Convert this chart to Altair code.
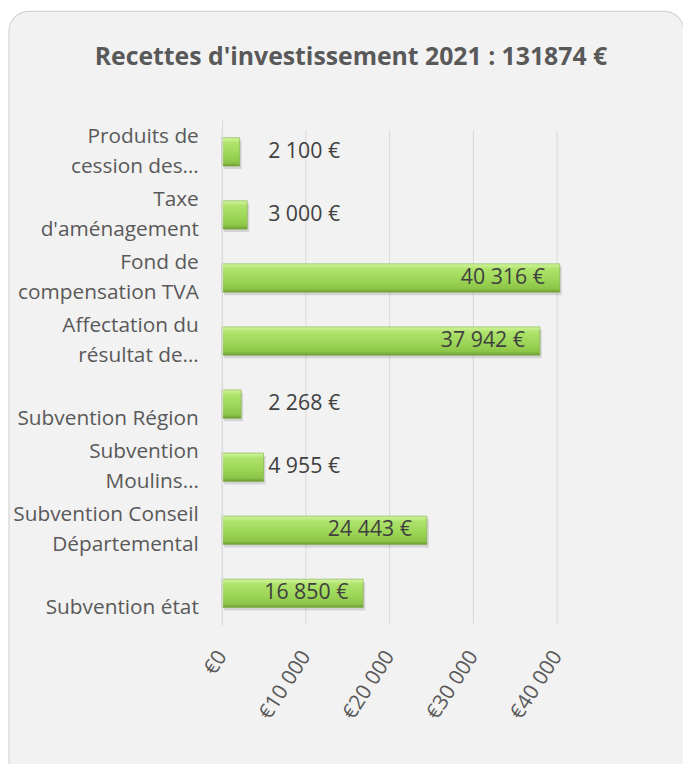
import altair as alt
import pandas as pd

categories = [
    "Produits de|cession des…",
    "Taxe|d'aménagement",
    "Fond de|compensation TVA",
    "Affectation du|résultat de…",
    "Subvention Région",
    "Subvention|Moulins…",
    "Subvention Conseil|Départemental",
    "Subvention état",
]
values = [2100, 3000, 40316, 37942, 2268, 4955, 24443, 16850]
x_ticks = [0, 10000, 20000, 30000, 40000]
title_text = "Recettes d'investissement 2021 : 131874 €"

df = pd.DataFrame({"cat": categories, "value": values})
df["label"] = [f"{v:,}".replace(",", " ") + " €" for v in values]
ticks_df = pd.DataFrame({"t": x_ticks})

W, H = 338, 509
FONT = "Open Sans"
GREY = "#595959"

x_scale = alt.Scale(domain=[0, 40000], nice=False)
y_scale = alt.Scale(domain=categories, paddingInner=0.55, paddingOuter=0.275)

y_axis = alt.Axis(
    title=None, domain=True, domainColor="#d9d9d9", ticks=False, grid=False,
    labelPadding=24, labelFontSize=21, labelColor=GREY, labelFont=FONT,
    labelLimit=0, labelLineHeight=30, labelOffset=-15, zindex=1,
    labelExpr="indexof(datum.label, '|') < 0 ? ['', datum.label] : split(datum.label, '|')",
)
x_axis = alt.Axis(
    title=None, values=x_ticks, grid=False, domain=False,
    ticks=False, labelAngle=-57, labelAlign="right",
    labelBaseline="middle", labelPadding=28, labelFontSize=21, labelColor=GREY,
    labelFont=FONT, zindex=1,
    labelExpr="'€' + replace(format(datum.value, ','), ',', ' ')",
)

base = alt.Chart(df)

card = base.mark_rect(
    fill="#f2f2f2", stroke="#d4d4d4", strokeWidth=1.2, cornerRadius=20, clip=False
).encode(
    x=alt.value(-215), x2=alt.value(466), y=alt.value(-110), y2=alt.value(680)
).transform_filter("datum.cat == 'Subvention état'")

grid = alt.Chart(ticks_df).mark_rule(color="#d9d9d9", strokeWidth=1).encode(
    x=alt.X("t:Q", scale=x_scale, axis=x_axis),
    y=alt.value(10),
    y2=alt.value(H - 1),
)

shadow = base.mark_bar(color="#000000", opacity=0.12, yOffset=3, xOffset=2, clip=False).encode(
    x=alt.X("value:Q", scale=x_scale, axis=x_axis),
    y=alt.Y("cat:N", scale=y_scale, axis=y_axis, sort=None),
)

bars = base.mark_bar(
    clip=False,
    stroke="#7fae45",
    strokeWidth=0.6,
    color=alt.Gradient(
        gradient="linear", x1=0, x2=0, y1=0, y2=1,
        stops=[
            alt.GradientStop(offset=0, color="#d2f59e"),
            alt.GradientStop(offset=0.18, color="#afe36c"),
            alt.GradientStop(offset=0.6, color="#9bd555"),
            alt.GradientStop(offset=0.88, color="#8cc447"),
            alt.GradientStop(offset=1, color="#6b9a33"),
        ],
    ),
).encode(
    x=alt.X("value:Q", scale=x_scale, axis=x_axis),
    y=alt.Y("cat:N", scale=y_scale, axis=y_axis, sort=None),
)

inside = base.transform_filter("datum.value >= 10000").mark_text(
    align="right", baseline="middle", dx=-15, fontSize=21.5, font=FONT, color="#404040"
).encode(
    x=alt.X("value:Q", scale=x_scale, axis=x_axis),
    y=alt.Y("cat:N", scale=y_scale, sort=None, axis=y_axis),
    text="label:N",
)

outside = base.transform_filter("datum.value < 10000").transform_calculate(
    lpos="max(datum.value, 5500)"
).mark_text(
    align="left", baseline="middle", fontSize=21.5, font=FONT, color="#404040"
).encode(
    x=alt.X("lpos:Q", scale=x_scale, axis=x_axis),
    y=alt.Y("cat:N", scale=y_scale, sort=None, axis=y_axis),
    text="label:N",
)

chart = alt.layer(card, grid, shadow, bars, inside, outside).properties(
    width=W,
    height=H,
    title=alt.TitleParams(
        title_text, font=FONT, fontSize=25, fontWeight="bold", color=GREY,
        anchor="middle", dx=-39, offset=-60,
    ),
    autosize=alt.AutoSizeParams(type="none"),
    padding={"left": 216, "top": 110, "right": 127, "bottom": 137},
).configure(background="white").configure_view(stroke=None)

chart.save("out.html", embed_options={"renderer": "svg", "actions": False})
